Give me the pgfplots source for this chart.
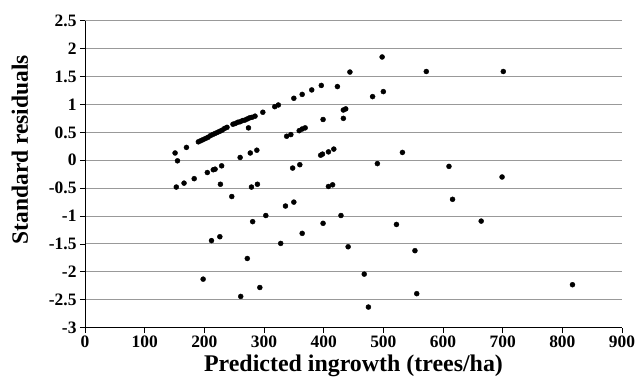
\documentclass[border=0pt]{standalone}
\usepackage{pgfplots}
\pgfplotsset{compat=1.18}
\usepackage{fontspec}
\setmainfont{Liberation Serif}
\pgfplotstableread{
x y
190 0.33
194 0.35
198 0.37
202 0.39
206 0.41
210 0.44
214 0.46
218 0.48
222 0.50
226 0.52
230 0.54
234 0.57
238 0.59
248 0.645
252 0.66
256 0.68
260 0.69
264 0.71
268 0.72
272 0.74
276 0.76
280 0.77
285 0.79
298 0.86
318 0.96
324 0.99
151 0.13
155 -0.01
170 0.23
153 -0.48
166 -0.41
183 -0.33
205 -0.22
215 -0.17
218 -0.16
229 -0.10
227 -0.43
246 -0.65
274 0.58
260 0.05
277 0.13
288 0.18
279 -0.48
289 -0.43
303 -0.99
281 -1.10
272 -1.76
212 -1.44
226 -1.37
198 -2.13
261 -2.44
293 -2.28
336 -0.82
350 -0.75
328 -1.49
364 -1.31
399 -1.13
429 -0.99
441 -1.55
468 -2.04
475 -2.63
522 -1.15
553 -1.62
556 -2.39
616 -0.70
664 -1.09
817 -2.23
348 -0.14
360 -0.08
338 0.43
345 0.46
359 0.53
364 0.56
369 0.58
395 0.09
398 0.11
408 0.15
417 0.20
408 -0.47
415 -0.44
490 -0.06
532 0.14
610 -0.11
699 -0.30
399 0.73
433 0.75
433 0.90
437 0.92
350 1.11
364 1.18
380 1.26
396 1.34
423 1.32
444 1.58
482 1.14
500 1.23
498 1.85
572 1.59
701 1.59
}\resid
\begin{document}
\begin{tikzpicture}
\begin{axis}[
  name=ax,
  scale only axis,
  width=537bp, height=307bp,
  xmin=0, xmax=900, ymin=-3, ymax=2.5,
  xtick={0,100,...,900},
  ytick={-3,-2.5,-2,-1.5,-1,-0.5,0,0.5,1,1.5,2,2.5},
  yticklabels={-3,-2.5,-2,-1.5,-1,-0.5,0,0.5,1,1.5,2,2.5},
  axis x line*=bottom, axis y line*=left,
  axis line style={black, line width=1pt, -},
  tick align=outside,
  major tick length=5bp,
  tick style={black, line width=0.8pt},
  ymajorgrids,
  major grid style={gray!80, line width=1pt},
  /pgf/number format/assume math mode=true,
  ticklabel style={font=\fontsize{17.5}{17.5}\selectfont\bfseries},
  xlabel={Predicted ingrowth (trees/ha)},
  ylabel={Standard residuals},
  xlabel style={font=\fontsize{24}{24}\selectfont\bfseries},
  ylabel style={font=\fontsize{23.5}{23.5}\selectfont\bfseries, at={(ticklabel cs:0.58,14bp)}},
]
\addplot[only marks, mark=*, mark size=2.5bp, black] table[x=x,y=y] {\resid};
\end{axis}
\path ([shift={(-85bp,-61.3bp)}]ax.south west) rectangle ([shift={(21bp,20.7bp)}]ax.north east);
\end{tikzpicture}
\end{document}
